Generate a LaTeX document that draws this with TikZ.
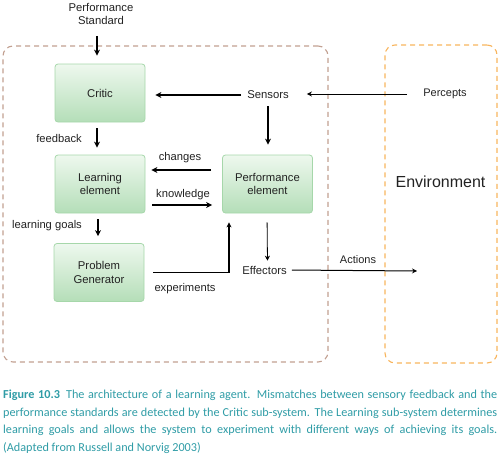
\documentclass[tikz,border=0pt]{standalone}
\usepackage{fontspec}
\setmainfont{Liberation Sans}
\newfontfamily\capfont{Carlito}
\usetikzlibrary{arrows.meta}
\definecolor{boxtop}{HTML}{EEF8EE}
\definecolor{boxbot}{HTML}{B4DEB8}
\definecolor{boxline}{HTML}{A6D7AA}
\definecolor{agentline}{HTML}{C2A091}
\definecolor{envline}{HTML}{F8B55E}
\definecolor{captext}{HTML}{2F9CA6}
\definecolor{txt}{HTML}{222222}
\newcommand{\capline}[1]{\makebox[494pt][s]{#1}}
\begin{document}
\begin{tikzpicture}[x=1pt,y=-1pt,
  every node/.style={text=txt},
  blk/.style={draw=boxline, line width=0.8pt, rounded corners=3pt, top color=boxtop, bottom color=boxbot,
    minimum width=90pt, minimum height=58pt, align=center, font=\fontsize{11.3}{13.3}\selectfont},
  word/.style={font=\fontsize{11.3}{13}\selectfont, align=center, inner sep=3pt},
  lbl/.style={font=\fontsize{11.2}{13}\selectfont, inner sep=1pt},
  thk/.style={-{Stealth[length=6pt,width=6pt]}, line width=1.5pt, draw=black},
  thn/.style={-{Stealth[length=5pt,width=5pt]}, line width=0.8pt, draw=black},
  agentbox/.style={draw=agentline, line width=1.1pt, dash pattern=on 5pt off 4pt, rounded corners=10pt},
  envbox/.style={draw=envline, line width=1.1pt, dash pattern=on 5pt off 4pt, rounded corners=10pt}]
\useasboundingbox (0,0) rectangle (500,458);

\node[agentbox, minimum width=325pt, minimum height=316pt] (agent) at (165.5,204) {};
\node[envbox, minimum width=112pt, minimum height=318pt] (env) at (441,204) {};
\node[font=\fontsize{16}{18}\selectfont] (envtxt) at (440.5,182) {Environment};

\node[blk] (critic) at (100,93) {Critic};
\node[blk] (learn) at (100,184) {Learning\\element};
\node[blk] (perf) at (267.5,184) {Performance\\element};
\node[blk] (prob) at (99,272.5) {Problem\\Generator};

\node[word] (ps) at (101,14) {Performance\\Standard};
\node[word] (sensors) at (268,95) {Sensors};
\node[word, font=\fontsize{11}{13}\selectfont] (percepts) at (445,94) {Percepts};
\node[word] (effectors) at (264.5,270) {Effectors};
\coordinate (actend) at (417,271);

\node[lbl] (lfeed) at (59,138) {feedback};
\node[lbl] (lchg) at (180,158) {changes};
\node[lbl] (lknow) at (183,195) {knowledge};
\node[lbl] (lgoal) at (47,226) {learning goals};
\node[lbl] (lexp) at (185,289) {experiments};
\node[lbl, font=\fontsize{11}{13}\selectfont] (lact) at (358,260) {Actions};

\draw[thk, shorten <=8pt, shorten >=8pt] ([xshift=-4pt]ps.south) -- ([xshift=-3pt]critic.north);
\draw[thk, shorten <=3pt, shorten >=10pt] (sensors.west) -- (critic.east |- sensors.west);
\draw[thk, shorten <=4pt, shorten >=10pt] (sensors.south) -- (sensors.south |- perf.north);
\draw[-{Stealth[length=5pt,width=5pt]}, line width=1pt, shorten <=13pt, shorten >=15pt] (percepts.west) -- (sensors.east |- percepts.west);
\draw[thk, shorten <=6pt, shorten >=7pt] ([xshift=-3pt]critic.south) -- ([xshift=-3pt]learn.north);
\draw[thk, shorten <=11pt, shorten >=6pt] ([yshift=14pt]perf.west) -- ([yshift=14pt]learn.east);
\draw[thk, shorten <=7pt, shorten >=10pt] ([yshift=-21pt]learn.east) -- ([yshift=-21pt]perf.west);
\draw[thk, shorten <=6pt, shorten >=7pt] ([xshift=-2pt]learn.south) -- ([xshift=-1pt]prob.north);
\draw[-{Stealth[length=5pt,width=5pt]}, line width=1.2pt, shorten <=9pt, shorten >=9pt] (prob.east) -| ([xshift=-38.5pt]perf.south);
\draw[thn, shorten <=9pt, shorten >=2pt] ([xshift=-0.5pt]perf.south) -- (effectors.north -| perf.south);
\draw[-{Stealth[length=5pt,width=5pt]}, line width=1pt, shorten <=2pt] (effectors.east) -- (actend);

\node[anchor=north west, inner sep=0pt, align=left, text=captext,
  font=\capfont\fontsize{12.2}{17.6}\selectfont] (caption) at (3,390)
  {\capline{\textbf{Figure 10.3}\enspace The architecture of a learning agent. Mismatches between sensory feedback and the}\\
   \capline{performance standards are detected by the Critic sub-system. The Learning sub-system determines}\\
   \capline{learning goals and allows the system to experiment with different ways of achieving its goals.}\\
   (Adapted from Russell and Norvig 2003)};
\end{tikzpicture}
\end{document}
